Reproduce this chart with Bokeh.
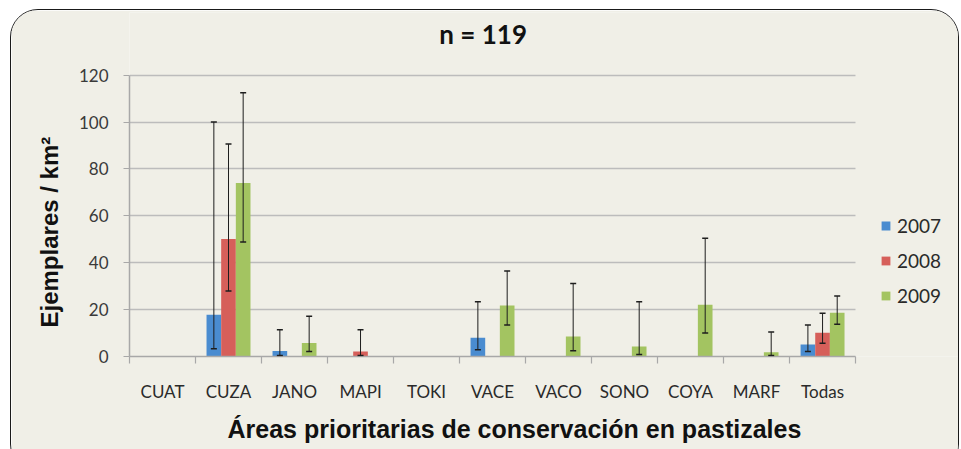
import math
from bokeh.plotting import figure
from bokeh.models import (ColumnDataSource, Range1d, FixedTicker, Whisker, TeeHead,
                          Legend, LegendItem, Title, Label, Grid)
from bokeh.embed import file_html
from bokeh.resources import INLINE

nan = float("nan")

categories = ["CUAT", "CUZA", "JANO", "MAPI", "TOKI", "VACE", "VACO", "SONO", "COYA", "MARF", "Todas"]
years = ["2007", "2008", "2009"]

v2007 = [0, 17.8, 2.3, 0, 0, 8.0, 0, 0, 0, 0, 5.1]
v2008 = [0, 50.1, 0, 2.1, 0, 0, 0, 0, 0, 0, 10.1]
v2009 = [0, 74.0, 5.8, 0, 0, 21.8, 8.5, 4.3, 22.1, 1.8, 18.7]

hi2007 = [nan, 100.0, 11.4, nan, nan, 23.4, nan, nan, nan, nan, 13.4]
lo2007 = [nan, 3.3, 0.4, nan, nan, 2.9, nan, nan, nan, nan, 2.1]
hi2008 = [nan, 90.6, nan, 11.4, nan, nan, nan, nan, nan, nan, 18.4]
lo2008 = [nan, 27.9, nan, 0.4, nan, nan, nan, nan, nan, nan, 5.7]
hi2009 = [nan, 112.5, 17.2, nan, nan, 36.5, 31.1, 23.4, 50.4, 10.4, 25.8]
lo2009 = [nan, 48.8, 2.1, nan, nan, 13.4, 2.4, 0.9, 10.0, 0.4, 13.8]

y_ticks = [0, 20, 40, 60, 80, 100, 120]

title_text = "n = 119"
y_title = "Ejemplares / km\u00b2"
x_title = "\u00c1reas prioritarias de conservaci\u00f3n en pastizales"

colors = ["#4a8cd0", "#d65f5a", "#a3c461"]
bg = "#f0efe7"
grey = "#a8a8a8"

values = [v2007, v2008, v2009]
his = [hi2007, hi2008, hi2009]
los = [lo2007, lo2008, lo2009]

n = len(categories)
centers = [i + 0.5 for i in range(n)]
boundaries = [float(i) for i in range(n + 1)]

# the frame also holds the title (above 120) and the legend (right of the last category)
p = figure(x_range=Range1d(0, 12.59), y_range=Range1d(0, 146.7), width=949, height=463,
           output_backend="svg", toolbar_location=None, title=None,
           min_border_left=118, min_border_right=0, min_border_top=2, min_border_bottom=117)
p.styles = {"margin": "9px 0px -30px 10px", "border": "1.5px solid #1a1a1a",
            "border-radius": "28px", "overflow": "hidden"}
p.background_fill_color = bg
p.border_fill_color = bg
p.outline_line_color = None

bw = 0.222
offsets = [-bw, 0.0, bw]
renderers = []
for yr, vals, hi, lo, off, col in zip(years, values, his, los, offsets, colors):
    xs = [c + off for c in centers]
    src = ColumnDataSource(dict(x=xs, v=vals))
    r = p.vbar(x="x", top="v", width=bw, source=src, fill_color=col, line_color=None)
    renderers.append(r)
    idx = [i for i in range(n) if not math.isnan(hi[i])]
    esrc = ColumnDataSource(dict(x=[xs[i] for i in idx], hi=[hi[i] for i in idx],
                                 lo=[lo[i] for i in idx]))
    w = Whisker(base="x", upper="hi", lower="lo", source=esrc, level="overlay",
                line_color="#1e1e1e", line_width=1,
                upper_head=TeeHead(size=6, line_color="#1e1e1e", line_width=1.5),
                lower_head=TeeHead(size=6, line_color="#1e1e1e", line_width=1.5))
    p.add_layout(w)

# grid
p.xgrid.grid_line_color = None
yg = p.ygrid[0]
yg.ticker = FixedTicker(ticks=y_ticks)
yg.grid_line_color = "#bcbcbc"
yg.grid_line_width = 1.6
if "cross_bounds" in Grid.properties():
    yg.cross_bounds = (0, n)
else:
    yg.grid_line_color = None
    p.segment(x0=[0] * len(y_ticks), x1=[n] * len(y_ticks), y0=y_ticks, y1=y_ticks,
              line_color="#bcbcbc", line_width=1.6, level="underlay")

# y axis
yax = p.yaxis[0]
yax.ticker = FixedTicker(ticks=y_ticks)
yax.bounds = (0, 120)
yax.axis_line_color = grey
yax.axis_line_width = 1.5
yax.major_tick_line_color = grey
yax.major_tick_out = 6
yax.major_tick_in = 0
yax.minor_tick_line_color = None
yax.major_label_standoff = 15
yax.major_label_text_font = "Lato"
yax.major_label_text_font_size = "17px"
yax.major_label_text_color = "#3a3a3a"

# x axis: labels at category centres, ticks at the category boundaries
xax = p.xaxis[0]
xax.ticker = FixedTicker(ticks=centers, minor_ticks=boundaries)
xax.major_label_overrides = {c: name for c, name in zip(centers, categories)}
xax.bounds = (0, n)
xax.axis_line_color = grey
xax.axis_line_width = 1.5
xax.major_tick_line_color = None
xax.major_tick_out = 7
xax.major_tick_in = 0
xax.minor_tick_line_color = grey
xax.minor_tick_line_width = 1.2
xax.minor_tick_out = 7
xax.minor_tick_in = 0
xax.major_label_standoff = 17
xax.major_label_text_font = "Lato"
xax.major_label_text_font_size = "17px"
xax.major_label_text_color = "#2a2a2a"

# axis titles in the side panels
xt = Title(text=x_title, align="left", offset=98, vertical_align="top", standoff=20,
           text_font="Liberation Sans", text_font_style="bold", text_font_size="25px",
           text_color="#111111")
yt = Title(text=y_title, align="left", offset=29, vertical_align="bottom", standoff=26,
           text_font="Liberation Sans", text_font_style="bold", text_font_size="24px",
           text_color="#111111")
p.add_layout(xt, "below")
p.add_layout(yt, "left")

# chart title
p.add_layout(Label(x=5.358, y=137.4, text=title_text, text_align="center",
                   text_baseline="alphabetic", text_font="Lato", text_font_style="bold",
                   text_font_size="26px", text_color="#111111"))

# legend
legend = Legend(items=[LegendItem(label=y, renderers=[r]) for y, r in zip(years, renderers)],
                location=(751, 49), orientation="vertical")
legend.background_fill_alpha = 0
legend.border_line_color = None
legend.padding = 0
legend.margin = 0
legend.glyph_width = 11
legend.glyph_height = 11
legend.label_height = 20
legend.spacing = 12
legend.label_standoff = 6
legend.label_text_font = "Lato"
legend.label_text_font_size = "19px"
legend.label_text_color = "#2a2a2a"
p.add_layout(legend, "center")

open("out.html", "w").write(file_html(p, INLINE))
